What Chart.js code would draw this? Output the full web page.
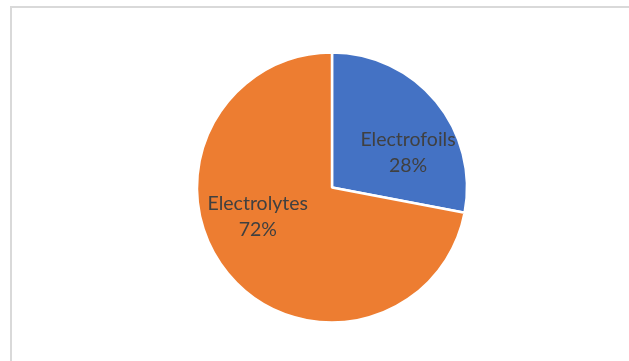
<!DOCTYPE html>
<html>
<head>
<meta charset="utf-8">
<script src="https://cdn.jsdelivr.net/npm/chart.js@4/dist/chart.umd.min.js"></script>
<style>
  html, body { margin: 0; padding: 0; background: #fff; overflow: hidden; }
  #wrap { position: relative; width: 629px; height: 361px; }
  #frame { position: absolute; left: 10px; top: 6px; width: 700px; height: 400px;
           border: 2px solid #d9d9d9; box-sizing: border-box; pointer-events: none; }
  canvas { position: absolute; left: 0; top: 0; }
</style>
</head>
<body>
<div id="wrap">
  <div id="frame"></div>
  <canvas id="c" width="629" height="361"></canvas>
</div>
<script>
// Market share by product segment
const categories = ['Electrofoils', 'Electrolytes'];
const shares = [28, 72];
const sliceColors = ['#4472C4', '#ED7D31'];

// Category name and percentage drawn inside each slice
const sliceLabels = {
  id: 'sliceLabels',
  afterDatasetsDraw(chart, args, opts) {
    const ctx = chart.ctx;
    const meta = chart.getDatasetMeta(0);
    const data = chart.data.datasets[0].data;
    const total = data.reduce((a, b) => a + b, 0);
    ctx.save();
    ctx.fillStyle = opts.color;
    ctx.font = opts.font;
    ctx.textAlign = 'center';
    ctx.textBaseline = 'middle';
    meta.data.forEach((arc, i) => {
      const p = arc.getProps(['x', 'y', 'startAngle', 'endAngle', 'outerRadius'], true);
      const mid = (p.startAngle + p.endAngle) / 2 + opts.angleShift[i];
      const r = p.outerRadius * opts.radiusFactor[i];
      const cx = p.x + Math.cos(mid) * r;
      const cy = p.y + Math.sin(mid) * r;
      const pct = Math.round(data[i] / total * 100) + '%';
      ctx.fillText(chart.data.labels[i], cx, cy - opts.lineGap / 2);
      ctx.fillText(pct, cx, cy + opts.lineGap / 2);
    });
    ctx.restore();
  }
};

new Chart(document.getElementById('c'), {
  type: 'pie',
  data: {
    labels: categories,
    datasets: [{
      data: shares,
      backgroundColor: sliceColors,
      borderColor: '#ffffff',
      borderWidth: 2.5
    }]
  },
  options: {
    responsive: false,
    animation: false,
    radius: 135,
    layout: { padding: { left: 35, right: 0, top: 52, bottom: 38 } },
    plugins: {
      legend: { display: false },
      tooltip: { enabled: false },
      sliceLabels: {
        color: '#404040',
        font: '19.5px Lato, "Open Sans", sans-serif',
        lineGap: 26,
        angleShift: [0.26, 0.32],
        radiusFactor: [0.62, 0.59]
      }
    }
  },
  plugins: [sliceLabels]
});
</script>
</body>
</html>
